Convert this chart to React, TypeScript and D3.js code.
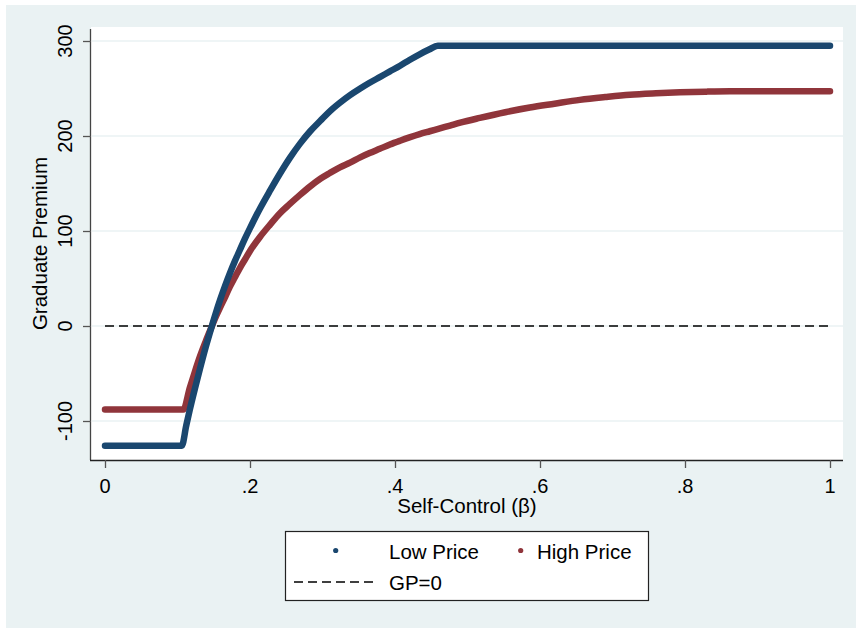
import React, { useEffect, useRef } from 'react';
import * as d3 from 'd3';

// self-control values and graduate premium
const betaLow = [0, 0.106, 0.112, 0.117, 0.124, 0.131, 0.139, 0.147, 0.153, 0.159, 0.166, 0.172, 0.179, 0.186, 0.193, 0.2, 0.214, 0.228, 0.241, 0.255, 0.269, 0.283, 0.297, 0.31, 0.324, 0.338, 0.352, 0.365, 0.379, 0.393, 0.407, 0.42, 0.434, 0.447, 0.459, 1];
const lowPrice = [-126, -126, -105, -88, -66, -45, -22, -1, 14, 28, 43, 55, 68, 80, 92, 103, 124, 143, 160, 177, 192, 205, 216, 226, 235, 243, 250, 256, 262, 268, 274, 280, 286, 291, 295, 295];

const betaHigh = [0, 0.108, 0.117, 0.124, 0.131, 0.139, 0.147, 0.153, 0.159, 0.166, 0.172, 0.179, 0.186, 0.193, 0.2, 0.214, 0.228, 0.241, 0.255, 0.269, 0.283, 0.297, 0.31, 0.324, 0.338, 0.352, 0.365, 0.379, 0.393, 0.407, 0.42, 0.434, 0.448, 0.462, 0.476, 0.49, 0.517, 0.552, 0.586, 0.62, 0.655, 0.69, 0.724, 0.76, 0.793, 0.83, 0.862, 1];
const highPrice = [-88, -88, -65, -48, -32, -16, -1, 10, 20, 31, 41, 51, 61, 70, 79, 94, 107, 118.5, 128.5, 138, 147, 155, 161, 167, 172, 177.5, 182, 186.5, 191, 195, 198.5, 202, 205, 208, 211, 214, 219, 225, 230, 234, 238, 241, 243.5, 245, 246, 246.7, 247, 247];

const xTicks = [0, 0.2, 0.4, 0.6, 0.8, 1];
const xTickLabels = ['0', '.2', '.4', '.6', '.8', '1'];
const yTicks = [-100, 0, 100, 200, 300];

const seriesNames = ['Low Price', 'High Price'];
const seriesColors = ['#1a476f', '#90353b'];
const refLabel = 'GP=0';

const W = 856;
const H = 628;
const plot = { left: 91, right: 843, top: 27, bottom: 460 };
const FONT = '"Liberation Sans", Arial, sans-serif';

export default function App() {
  const ref = useRef<SVGSVGElement>(null);

  useEffect(() => {
    const svg = d3.select(ref.current);
    svg.selectAll('*').remove();

    const x = d3.scaleLinear().domain([0, 1]).range([105, 830]);
    const y = d3.scaleLinear().domain([-100, 300]).range([421, 41]);

    // backgrounds
    svg.append('rect').attr('x', 6).attr('y', 5).attr('width', W - 6).attr('height', H - 5).attr('fill', '#eaf2f3');
    svg.append('rect')
      .attr('x', plot.left).attr('y', plot.top)
      .attr('width', plot.right - plot.left).attr('height', plot.bottom - plot.top)
      .attr('fill', '#ffffff');

    // grid
    svg.append('g').selectAll('line').data(yTicks).enter().append('line')
      .attr('x1', plot.left + 1).attr('x2', plot.right)
      .attr('y1', (d) => y(d)).attr('y2', (d) => y(d))
      .attr('stroke', '#eaf2f3').attr('stroke-width', 1.6);

    // reference line
    svg.append('line')
      .attr('x1', x(0)).attr('x2', x(1)).attr('y1', y(0)).attr('y2', y(0))
      .attr('stroke', '#000').attr('stroke-width', 1.6).attr('stroke-dasharray', '9,5');

    // curves
    const line = d3.line<[number, number]>()
      .x((d) => x(d[0]))
      .y((d) => y(d[1]))
      .curve(d3.curveMonotoneX);
    const series = [
      d3.zip(betaHigh, highPrice) as [number, number][],
      d3.zip(betaLow, lowPrice) as [number, number][],
    ];
    const cols = [seriesColors[1], seriesColors[0]];
    series.forEach((s, i) => {
      svg.append('path')
        .attr('d', line(s))
        .attr('fill', 'none')
        .attr('stroke', cols[i])
        .attr('stroke-width', 6.5)
        .attr('stroke-linecap', 'round')
        .attr('stroke-linejoin', 'round');
    });

    // axes
    const yAxis = d3.axisLeft(y).tickValues(yTicks).tickSize(8).tickFormat(() => '');
    const gy = svg.append('g').attr('transform', `translate(${plot.left},0)`).call(yAxis);
    gy.select('.domain').attr('d', `M-0.5,${plot.top + 2}V${plot.bottom}`).attr('stroke', '#444').attr('stroke-width', 1.3);
    gy.selectAll('.tick line').attr('stroke', '#555').attr('stroke-width', 1.3);

    const xAxis = d3.axisBottom(x).tickValues(xTicks).tickSize(8).tickFormat(() => '');
    const gx = svg.append('g').attr('transform', `translate(0,${plot.bottom})`).call(xAxis);
    gx.select('.domain').attr('d', `M${plot.left - 1},0.5H${plot.right}`).attr('stroke', '#222').attr('stroke-width', 1.3);
    gx.selectAll('.tick line').attr('stroke', '#555').attr('stroke-width', 1.3);

    // tick labels
    svg.append('g').selectAll('text').data(yTicks).enter().append('text')
      .attr('transform', (d) => `translate(72,${y(d)}) rotate(-90)`)
      .attr('text-anchor', 'middle')
      .attr('font-family', FONT).attr('font-size', 20)
      .attr('fill', '#000')
      .text((d) => String(d));

    svg.append('g').selectAll('text').data(xTicks).enter().append('text')
      .attr('x', (d) => x(d)).attr('y', 493)
      .attr('text-anchor', 'middle')
      .attr('font-family', FONT).attr('font-size', 20)
      .attr('fill', '#000')
      .text((d, i) => xTickLabels[i]);

    // axis titles
    svg.append('text')
      .attr('x', (plot.left + plot.right) / 2).attr('y', 513)
      .attr('text-anchor', 'middle')
      .attr('font-family', FONT).attr('font-size', 20.5)
      .text('Self-Control (β)');
    svg.append('text')
      .attr('transform', `translate(47,${(plot.top + plot.bottom) / 2}) rotate(-90)`)
      .attr('text-anchor', 'middle')
      .attr('font-family', FONT).attr('font-size', 20.5)
      .text('Graduate Premium');

    // legend
    const lg = svg.append('g');
    lg.append('rect').attr('x', 285.5).attr('y', 531.5).attr('width', 363).attr('height', 69)
      .attr('fill', '#fff').attr('stroke', '#222').attr('stroke-width', 1.2);
    const markerX = [335.7, 520.7];
    const textX = [389, 537];
    seriesNames.forEach((n, i) => {
      lg.append('circle').attr('cx', markerX[i]).attr('cy', 550.5).attr('r', 2.6).attr('fill', seriesColors[i]);
      lg.append('text').attr('x', textX[i]).attr('y', 559)
        .attr('font-family', FONT).attr('font-size', 20.5).text(n);
    });
    lg.append('line').attr('x1', 294).attr('x2', 377).attr('y1', 582).attr('y2', 582)
      .attr('stroke', '#000').attr('stroke-width', 1.6).attr('stroke-dasharray', '9,5');
    lg.append('text').attr('x', 389).attr('y', 590)
      .attr('font-family', FONT).attr('font-size', 20.5).text(refLabel);
  }, []);

  return (
    <svg
      ref={ref}
      width={W}
      height={H}
      style={{ position: 'absolute', left: 0, top: 0, background: '#fff' }}
    />
  );
}
